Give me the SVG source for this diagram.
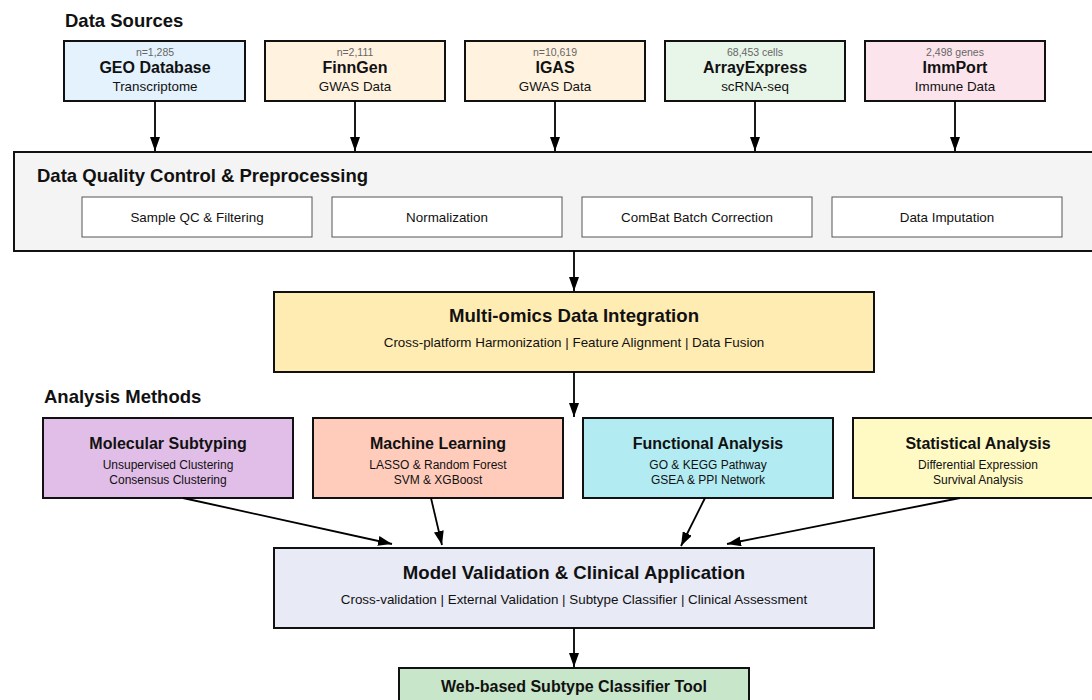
<svg xmlns="http://www.w3.org/2000/svg" width="1092" height="700" viewBox="0 0 1092 700">
  <style>
    text { font-family: "Liberation Sans", Arial, sans-serif; fill: #111; }
    .sect { font-size: 18.5px; font-weight: bold; }
    .box { stroke: #111; stroke-width: 2; }
    .inner { fill: #fff; stroke: #555; stroke-width: 1; }
    .cnt { font-size: 10.5px; fill: #666; text-anchor: middle; }
    .h16 { font-size: 16px; font-weight: bold; text-anchor: middle; }
    .h18 { font-size: 18.6px; font-weight: bold; text-anchor: middle; }
    .sub { font-size: 13.4px; text-anchor: middle; }
    .s12 { font-size: 12px; text-anchor: middle; }
    .step { font-size: 13.4px; text-anchor: middle; }
    .edge { stroke: #000; stroke-width: 1.8; fill: none; marker-end: url(#arrow); }
  </style>
  <defs>
    <marker id="arrow" viewBox="0 0 14 10" refX="14" refY="5" markerWidth="14" markerHeight="10" markerUnits="userSpaceOnUse" orient="auto">
      <path d="M0,0 L14,5 L0,10 z" fill="#000"/>
    </marker>
  </defs>
  <rect width="1092" height="700" fill="#fff"/>

  <text class="sect" x="65" y="27">Data Sources</text>

  <g id="geo">
    <rect class="box" x="64" y="41" width="181" height="60" fill="#e3f2fd"/>
    <text class="cnt" x="155" y="56">n=1,285</text>
    <text class="h16" x="155" y="73">GEO Database</text>
    <text class="sub" x="155" y="91">Transcriptome</text>
  </g>
  <g id="finngen">
    <rect class="box" x="265" y="41" width="180" height="60" fill="#fff3e0"/>
    <text class="cnt" x="355" y="56">n=2,111</text>
    <text class="h16" x="355" y="73">FinnGen</text>
    <text class="sub" x="355" y="91">GWAS Data</text>
  </g>
  <g id="igas">
    <rect class="box" x="465" y="41" width="180" height="60" fill="#fff3e0"/>
    <text class="cnt" x="555" y="56">n=10,619</text>
    <text class="h16" x="555" y="73">IGAS</text>
    <text class="sub" x="555" y="91">GWAS Data</text>
  </g>
  <g id="arrayexpress">
    <rect class="box" x="665" y="41" width="180" height="60" fill="#e8f5e9"/>
    <text class="cnt" x="755" y="56">68,453 cells</text>
    <text class="h16" x="755" y="73">ArrayExpress</text>
    <text class="sub" x="755" y="91">scRNA-seq</text>
  </g>
  <g id="immport">
    <rect class="box" x="865" y="41" width="180" height="60" fill="#fce4ec"/>
    <text class="cnt" x="955" y="56">2,498 genes</text>
    <text class="h16" x="955" y="73">ImmPort</text>
    <text class="sub" x="955" y="91">Immune Data</text>
  </g>

  <g id="qc">
    <rect class="box" x="14" y="152" width="1090" height="99" fill="#f4f4f4"/>
    <text class="sect" x="37" y="182">Data Quality Control &amp; Preprocessing</text>
    <rect class="inner" x="82" y="197" width="230" height="40"/>
    <text class="step" x="197" y="222">Sample QC &amp; Filtering</text>
    <rect class="inner" x="332" y="197" width="230" height="40"/>
    <text class="step" x="447" y="222">Normalization</text>
    <rect class="inner" x="582" y="197" width="230" height="40"/>
    <text class="step" x="697" y="222">ComBat Batch Correction</text>
    <rect class="inner" x="832" y="197" width="230" height="40"/>
    <text class="step" x="947" y="222">Data Imputation</text>
  </g>

  <g id="integration">
    <rect class="box" x="274" y="292" width="600" height="80" fill="#ffecb3"/>
    <text class="h18" x="574" y="322">Multi-omics Data Integration</text>
    <text class="sub" x="574" y="347">Cross-platform Harmonization | Feature Alignment | Data Fusion</text>
  </g>

  <text class="sect" x="44" y="403">Analysis Methods</text>

  <g id="subtyping">
    <rect class="box" x="43" y="418" width="250" height="80" fill="#e1bee7"/>
    <text class="h16" x="168" y="449">Molecular Subtyping</text>
    <text class="s12" x="168" y="469">Unsupervised Clustering</text>
    <text class="s12" x="168" y="484">Consensus Clustering</text>
  </g>
  <g id="ml">
    <rect class="box" x="313" y="418" width="250" height="80" fill="#ffccbc"/>
    <text class="h16" x="438" y="449">Machine Learning</text>
    <text class="s12" x="438" y="469">LASSO &amp; Random Forest</text>
    <text class="s12" x="438" y="484">SVM &amp; XGBoost</text>
  </g>
  <g id="functional">
    <rect class="box" x="583" y="418" width="250" height="80" fill="#b2ebf2"/>
    <text class="h16" x="708" y="449">Functional Analysis</text>
    <text class="s12" x="708" y="469">GO &amp; KEGG Pathway</text>
    <text class="s12" x="708" y="484">GSEA &amp; PPI Network</text>
  </g>
  <g id="statistical">
    <rect class="box" x="853" y="418" width="250" height="80" fill="#fff9c4"/>
    <text class="h16" x="978" y="449">Statistical Analysis</text>
    <text class="s12" x="978" y="469">Differential Expression</text>
    <text class="s12" x="978" y="484">Survival Analysis</text>
  </g>

  <g id="validation">
    <rect class="box" x="274" y="548" width="600" height="80" fill="#e8eaf6"/>
    <text class="h18" x="574" y="579">Model Validation &amp; Clinical Application</text>
    <text class="sub" x="574" y="604">Cross-validation | External Validation | Subtype Classifier | Clinical Assessment</text>
  </g>

  <g id="webtool">
    <rect class="box" x="399" y="668" width="350" height="50" fill="#c8e6c9"/>
    <text class="h16" x="574" y="692">Web-based Subtype Classifier Tool</text>
  </g>

  <g id="connectors">
    <line class="edge" x1="155" y1="101" x2="155" y2="151"/>
    <line class="edge" x1="355" y1="101" x2="355" y2="151"/>
    <line class="edge" x1="555" y1="101" x2="555" y2="151"/>
    <line class="edge" x1="755" y1="101" x2="755" y2="151"/>
    <line class="edge" x1="955" y1="101" x2="955" y2="151"/>
    <line class="edge" x1="574" y1="251" x2="574" y2="291"/>
    <line class="edge" x1="574" y1="372" x2="574" y2="417"/>
    <line class="edge" x1="183" y1="498" x2="392" y2="544"/>
    <line class="edge" x1="431" y1="498" x2="442" y2="545"/>
    <line class="edge" x1="705" y1="498" x2="681" y2="546"/>
    <line class="edge" x1="960" y1="498" x2="727" y2="544"/>
    <line class="edge" x1="574" y1="628" x2="574" y2="667"/>
  </g>
</svg>
